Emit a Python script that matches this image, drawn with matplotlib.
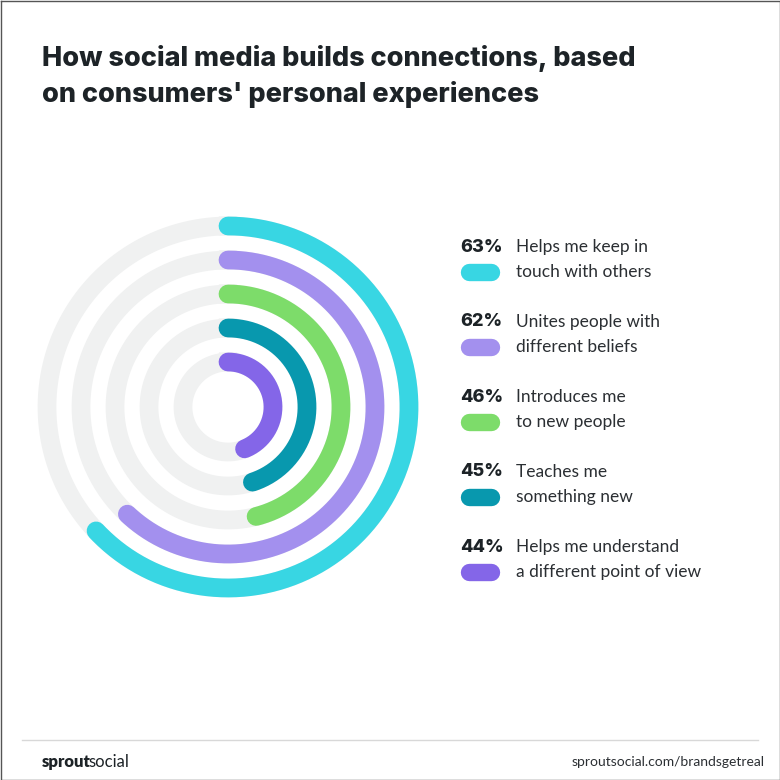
import numpy as np
import matplotlib
matplotlib.use("Agg")
import matplotlib.pyplot as plt

pcts = [63, 62, 46, 45, 44]
lines1 = ["Helps me keep in", "Unites people with", "Introduces me", "Teaches me", "Helps me understand"]
lines2 = ["touch with others", "different beliefs", "to new people", "something new", "a different point of view"]
colors = ["#38d6e3", "#a390ee", "#7ddc6a", "#0898ae", "#8466e8"]

fig = plt.figure(figsize=(7.8, 7.8), dpi=100)
ax = fig.add_axes([0, 0, 1, 1])
ax.set_xlim(0, 780); ax.set_ylim(780, 0); ax.axis("off")

ax.plot([0.5, 779.5, 779.5, 0.5, 0.5], [0.5, 0.5, 779.5, 779.5, 0.5], color="#555555", lw=1)

for y, s in [(58, "How social media builds connections, based"), (95, "on consumers' personal experiences")]:
    ax.text(42, y, s, fontsize=19.5, fontweight="heavy", family="Inter", color="#1d2327", va="center")

cx, cy = 228, 407
radii = [181, 147, 113, 79, 45]
lw = 13.5
t = np.linspace(0, 2*np.pi, 400)
for r, p, c in zip(radii, pcts, colors):
    ax.plot(cx + r*np.sin(t), cy - r*np.cos(t), color="#f0f1f1", lw=lw)
    th = np.linspace(0, 2*np.pi*p/100, 300)
    ax.plot(cx + r*np.sin(th), cy - r*np.cos(th), color=c, lw=lw, solid_capstyle="round")

for i, (p, a, b, c) in enumerate(zip(pcts, lines1, lines2, colors)):
    y = 247 + 75*i
    ax.text(460, y, f"{p}%", fontsize=13, fontweight="heavy", family="Inter", color="#1d2327", va="center")
    ax.text(516, y, a, fontsize=12.5, family="Lato", color="#2b2f33", va="center")
    ax.text(516, y + 25, b, fontsize=12.5, family="Lato", color="#2b2f33", va="center")
    ax.plot([469, 491], [y + 25, y + 25], color=c, lw=12.5, solid_capstyle="round")

ax.plot([22, 758], [740, 740], color="#d8d8d8", lw=1)
ax.text(42, 762, "sprout", fontsize=12, fontweight="black", family="Lato", color="#1d2327", va="center")
ax.text(88, 762, "social", fontsize=12, family="Lato", color="#1d2327", va="center")
ax.text(765, 762, "sproutsocial.com/brandsgetreal", fontsize=10, family="Lato", color="#2b2f33",
        va="center", ha="right")

fig.savefig("out.png", dpi=100, facecolor="white")
